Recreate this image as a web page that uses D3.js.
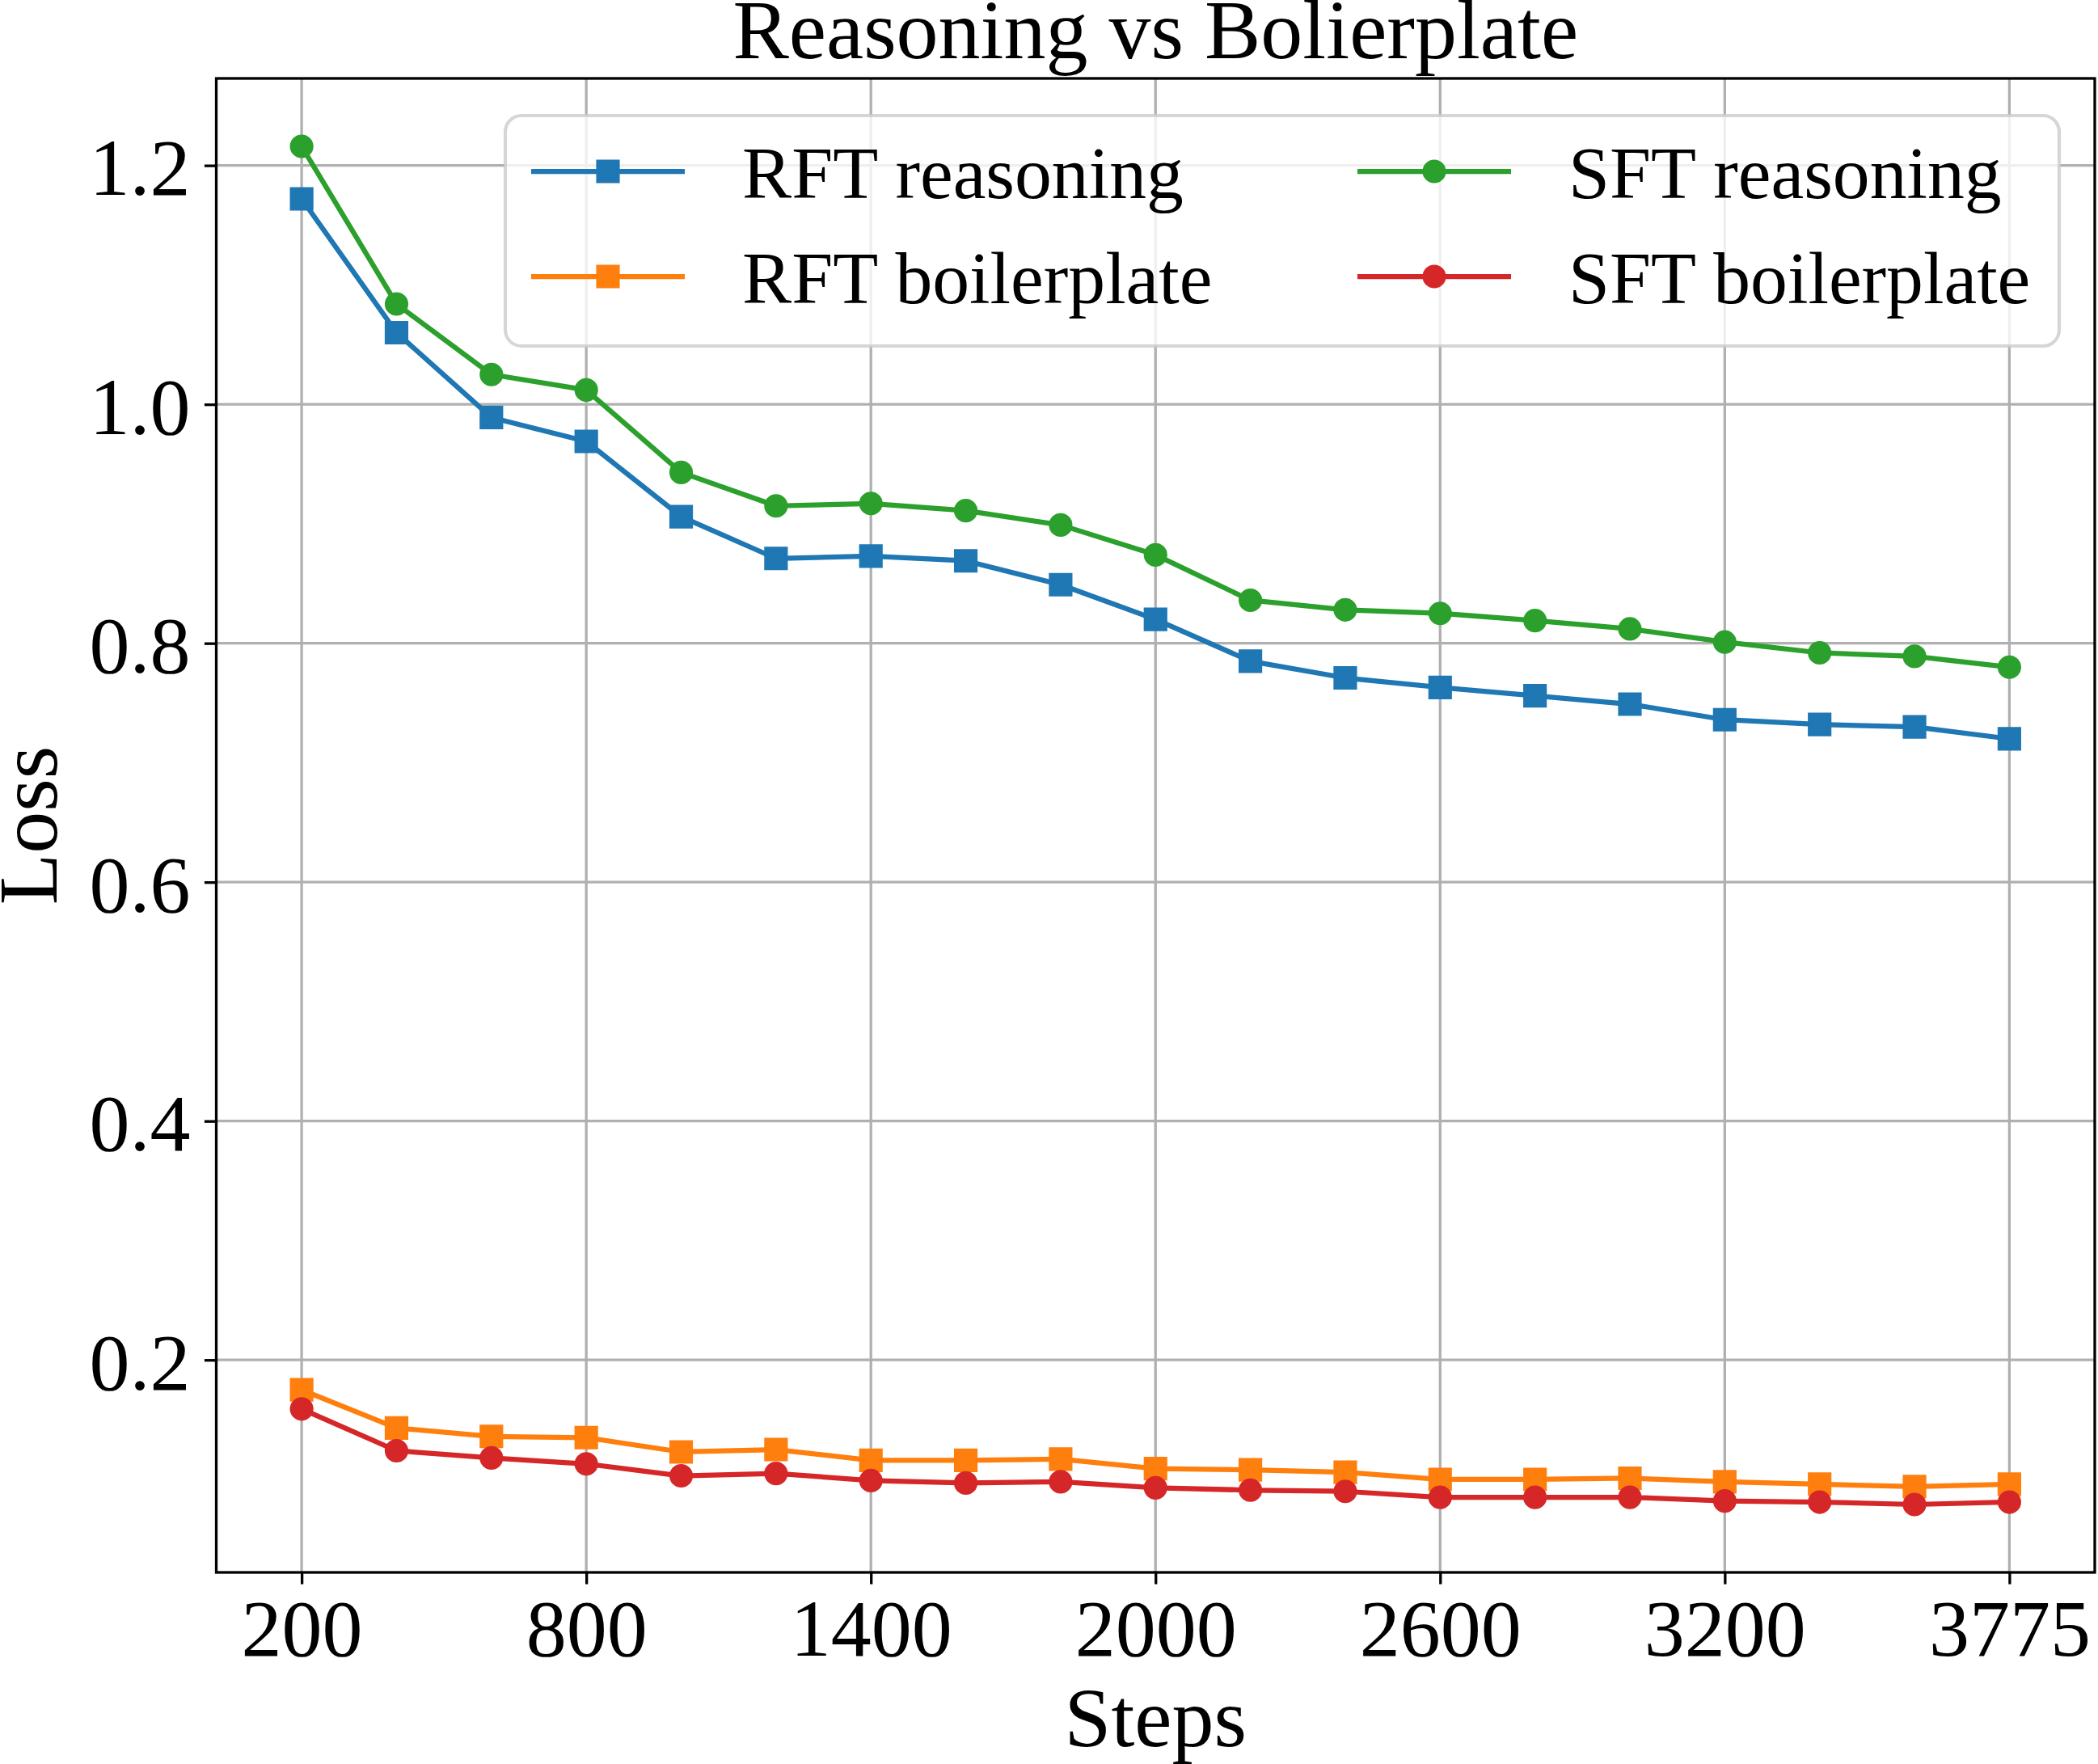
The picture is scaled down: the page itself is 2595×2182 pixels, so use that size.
<!DOCTYPE html>
<html>
<head>
<meta charset="utf-8">
<script src="https://cdn.jsdelivr.net/npm/d3@7"></script>
<style>
  html, body { margin: 0; padding: 0; background: #ffffff; }
  svg { display: block; }
  text { font-family: "Liberation Serif", "Times New Roman", serif; fill: #000; }
</style>
</head>
<body>
<svg id="chart" width="2595" height="2182"></svg>
<script>
// ---------------- data ----------------
const steps = [200, 400, 600, 800, 1000, 1200, 1400, 1600, 1800, 2000, 2200, 2400, 2600, 2800, 3000, 3200, 3400, 3600, 3775];
const xTickLabels = ["200", "800", "1400", "2000", "2600", "3200", "3775"];
const yTickValues = [0.2, 0.4, 0.6, 0.8, 1.0, 1.2];

const rftReasoning   = [1.172, 1.060, 0.989, 0.969, 0.906, 0.871, 0.873, 0.869, 0.849, 0.820, 0.785, 0.771, 0.763, 0.756, 0.749, 0.736, 0.732, 0.730, 0.720];
const rftBoilerplate = [0.175, 0.143, 0.136, 0.135, 0.123, 0.125, 0.116, 0.116, 0.117, 0.109, 0.108, 0.106, 0.100, 0.100, 0.101, 0.098, 0.096, 0.094, 0.096];
const sftReasoning   = [1.216, 1.084, 1.025, 1.012, 0.943, 0.915, 0.917, 0.911, 0.899, 0.874, 0.836, 0.828, 0.825, 0.819, 0.812, 0.801, 0.792, 0.789, 0.780];
const sftBoilerplate = [0.159, 0.124, 0.118, 0.113, 0.103, 0.105, 0.099, 0.097, 0.098, 0.093, 0.091, 0.090, 0.085, 0.085, 0.085, 0.082, 0.081, 0.079, 0.081];

const seriesNames = ["RFT reasoning", "RFT boilerplate", "SFT reasoning", "SFT boilerplate"];
const seriesValues = [rftReasoning, rftBoilerplate, sftReasoning, sftBoilerplate];
const seriesColors = ["#1f77b4", "#ff7f0e", "#2ca02c", "#d62728"];
const seriesMarkers = ["square", "square", "circle", "circle"];

const titleText = "Reasoning vs Bolierplate";
const xLabelText = "Steps";
const yLabelText = "Loss";

// ---------------- layout ----------------
const L = 267.5, R = 2591, T = 97, B = 1945;
const svg = d3.select("#chart");

const n = steps.length;
const xPad = (n - 1) * 0.05;
const x = d3.scaleLinear().domain([-xPad, (n - 1) + xPad]).range([L, R]);

const all = seriesValues.flat();
const yMin = d3.min(all), yMax = d3.max(all);
const yPad = (yMax - yMin) * 0.05;
const y = d3.scaleLinear().domain([yMin - yPad, yMax + yPad]).range([B, T]);

const xTickIdx = xTickLabels.map(lbl => steps.indexOf(+lbl));

// grid
const grid = svg.append("g");
grid.selectAll("line.gx").data(xTickIdx).join("line")
  .attr("x1", d => x(d)).attr("x2", d => x(d))
  .attr("y1", T).attr("y2", B)
  .attr("stroke", "#b0b0b0").attr("stroke-width", 3.3);
grid.selectAll("line.gy").data(yTickValues).join("line")
  .attr("x1", L).attr("x2", R)
  .attr("y1", d => y(d)).attr("y2", d => y(d))
  .attr("stroke", "#b0b0b0").attr("stroke-width", 3.3);

// axes with d3 axis generators
const xAxis = d3.axisBottom(x).tickValues(xTickIdx)
  .tickFormat((d, i) => xTickLabels[i]).tickSize(14.6).tickPadding(14);
const gx = svg.append("g").attr("transform", `translate(0,${B})`).call(xAxis);
gx.select(".domain").remove();
gx.selectAll(".tick line").attr("stroke", "#000").attr("stroke-width", 3.3);
gx.selectAll(".tick text").attr("font-size", 100).attr("dy", null).attr("y", 103)
  .attr("font-family", "Liberation Serif, Times New Roman, serif").attr("fill", "#000");

const yAxis = d3.axisLeft(y).tickValues(yTickValues)
  .tickFormat(d3.format(".1f")).tickSize(14.6).tickPadding(16);
const gy = svg.append("g").attr("transform", `translate(${L},0)`).call(yAxis);
gy.select(".domain").remove();
gy.selectAll(".tick line").attr("stroke", "#000").attr("stroke-width", 3.3);
gy.selectAll(".tick text").attr("font-size", 100).attr("dy", null).attr("y", 36).attr("x", -32)
  .attr("font-family", "Liberation Serif, Times New Roman, serif").attr("fill", "#000");

// series
const line = d3.line().x((d, i) => x(i)).y(d => y(d));
const symSquare = d3.symbol().type(d3.symbolSquare).size(25 * 25);
const symCircle = d3.symbol().type(d3.symbolCircle).size(Math.PI * 12.5 * 12.5);

seriesValues.forEach((vals, s) => {
  const g = svg.append("g");
  g.append("path").datum(vals)
    .attr("d", line)
    .attr("fill", "none")
    .attr("stroke", seriesColors[s])
    .attr("stroke-width", 6.25)
    .attr("stroke-linejoin", "round")
    .attr("stroke-linecap", "square");
  g.selectAll("path.m").data(vals).join("path")
    .attr("class", "m")
    .attr("transform", (d, i) => `translate(${x(i)},${y(d)})`)
    .attr("d", seriesMarkers[s] === "square" ? symSquare() : symCircle())
    .attr("fill", seriesColors[s])
    .attr("stroke", seriesColors[s])
    .attr("stroke-width", 4.17);
});

// spines
svg.append("rect")
  .attr("x", L).attr("y", T).attr("width", R - L).attr("height", B - T)
  .attr("fill", "none").attr("stroke", "#000").attr("stroke-width", 3.3);

// title & labels
const cx = (L + R) / 2;
svg.append("text").attr("x", cx).attr("y", 72).attr("text-anchor", "middle")
  .attr("font-size", 104).text(titleText);
svg.append("text").attr("x", cx).attr("y", 2160).attr("text-anchor", "middle")
  .attr("font-size", 104).text(xLabelText);
svg.append("text")
  .attr("transform", `translate(70,${(T + B) / 2}) rotate(-90)`)
  .attr("text-anchor", "middle").attr("font-size", 104).text(yLabelText);

// legend
const leg = svg.append("g");
leg.append("rect")
  .attr("x", 625).attr("y", 143).attr("width", 1922).attr("height", 285)
  .attr("rx", 20).attr("ry", 20)
  .attr("fill", "#ffffff").attr("fill-opacity", 0.8)
  .attr("stroke", "#cccccc").attr("stroke-opacity", 0.8).attr("stroke-width", 4.17);

const colX = [657, 1679];
const rowY = [212, 342];
seriesNames.forEach((name, s) => {
  const col = Math.floor(s / 2), row = s % 2;
  const x0 = colX[col], yy = rowY[row];
  leg.append("line").attr("x1", x0).attr("x2", x0 + 190).attr("y1", yy).attr("y2", yy)
    .attr("stroke", seriesColors[s]).attr("stroke-width", 6.25);
  leg.append("path").attr("transform", `translate(${x0 + 95},${yy})`)
    .attr("d", seriesMarkers[s] === "square" ? symSquare() : symCircle())
    .attr("fill", seriesColors[s]).attr("stroke", seriesColors[s]).attr("stroke-width", 4.17);
  leg.append("text").attr("x", x0 + 261).attr("y", yy + 33)
    .attr("font-size", 91.7).text(name);
});
</script>
</body>
</html>
